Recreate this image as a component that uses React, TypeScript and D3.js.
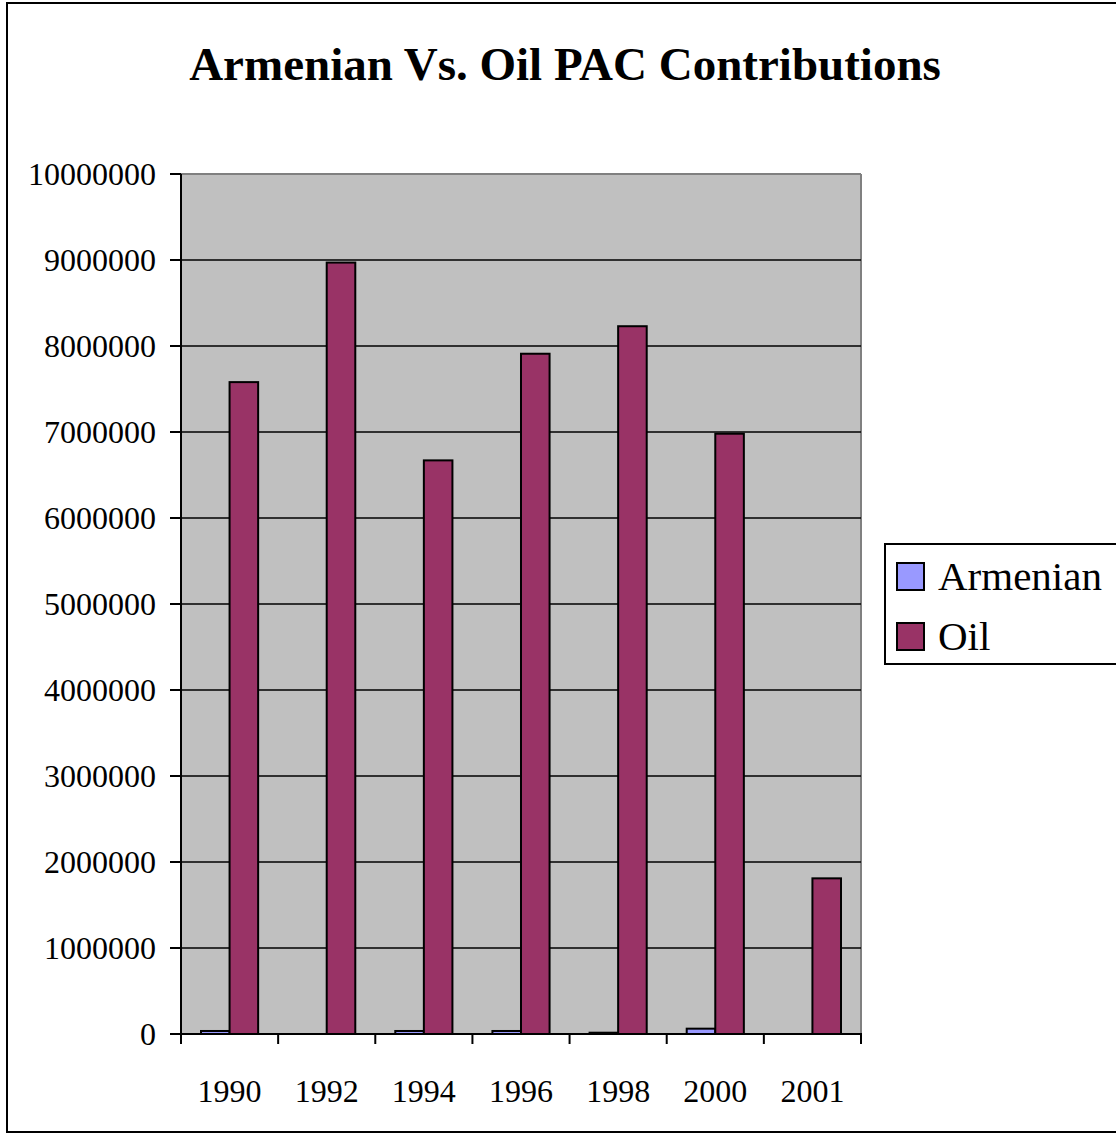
import * as d3 from "d3";
import { useEffect } from "react";

const years = ["1990", "1992", "1994", "1996", "1998", "2000", "2001"];
const armenian = [35000, 0, 35000, 35000, 15000, 62000, 0];
const oil = [7580000, 8970000, 6670000, 7910000, 8230000, 6980000, 1810000];
const seriesNames = ["Armenian", "Oil"];
const seriesColors = ["#9999FF", "#993366"];
const yTicks = d3.range(0, 10000001, 1000000);

const W = 1116;
const H = 1135;
const plot = { left: 181, right: 861, top: 174, bottom: 1034 };
const font = "'Liberation Serif', 'Times New Roman', serif";

const App = () => {
	useEffect(() => {
		document.body.style.margin = "0";
	}, []);

	const x0 = d3.scaleBand().domain(years).range([plot.left, plot.right]).padding(0);
	const x1 = d3
		.scaleBand()
		.domain(seriesNames)
		.range([0, x0.bandwidth()])
		.paddingInner(0)
		.paddingOuter(0.7);
	const y = d3.scaleLinear().domain([0, 10000000]).range([plot.bottom, plot.top]);
	const fmt = d3.format("d");
	const values = [armenian, oil];
	const tickXs = [...years.map(d => x0(d)), plot.right];

	return (
		<svg width={W} height={H} style={{ display: "block", fontFamily: font }}>
			<rect x={0} y={0} width={W} height={H} fill="#fff" />
			<rect x={7} y={3} width={W + 10} height={1129} fill="none" stroke="#000" strokeWidth={2} />
			<text x={565} y={80} textAnchor="middle" fontSize={47} fontWeight="bold">
				Armenian Vs. Oil PAC Contributions
			</text>

			{/* plot area */}
			<rect
				x={plot.left}
				y={plot.top}
				width={plot.right - plot.left}
				height={plot.bottom - plot.top}
				fill="#C0C0C0"
			/>
			<line x1={plot.left} x2={plot.right} y1={plot.top} y2={plot.top} stroke="#808080" strokeWidth={2} />
			<line x1={plot.right} x2={plot.right} y1={plot.top} y2={plot.bottom} stroke="#808080" strokeWidth={2} />
			{yTicks.slice(1, -1).map(t => (
				<line key={t} x1={plot.left} x2={plot.right} y1={y(t)} y2={y(t)} stroke="#000" strokeWidth={1.5} />
			))}

			{/* bars */}
			{years.map((yr, i) => (
				<g key={yr} transform={`translate(${x0(yr)},0)`}>
					{seriesNames.map((s, j) => {
						const v = values[j][i];
						if (!v) return null;
						return (
							<rect
								key={s}
								x={x1(s)}
								y={y(v)}
								width={x1.bandwidth()}
								height={y(0) - y(v)}
								fill={seriesColors[j]}
								stroke="#000"
								strokeWidth={2}
							/>
						);
					})}
				</g>
			))}

			{/* axes */}
			<line x1={plot.left} x2={plot.left} y1={plot.top} y2={plot.bottom} stroke="#000" strokeWidth={2} />
			<line x1={plot.left - 11} x2={plot.right + 1} y1={plot.bottom} y2={plot.bottom} stroke="#000" strokeWidth={2} />
			{yTicks.map(t => (
				<g key={t}>
					<line x1={plot.left - 11} x2={plot.left} y1={y(t)} y2={y(t)} stroke="#000" strokeWidth={2} />
					<text x={156} y={y(t)} dy="0.34em" textAnchor="end" fontSize={32}>
						{fmt(t)}
					</text>
				</g>
			))}
			{tickXs.map((tx, i) => (
				<line key={i} x1={tx} x2={tx} y1={plot.bottom} y2={plot.bottom + 10} stroke="#000" strokeWidth={2} />
			))}
			{years.map(yr => (
				<text key={yr} x={x0(yr) + x0.bandwidth() / 2} y={1102} textAnchor="middle" fontSize={32}>
					{yr}
				</text>
			))}

			{/* legend */}
			<rect x={885} y={544} width={W} height={120} fill="#fff" stroke="#000" strokeWidth={2} />
			{seriesNames.map((s, j) => (
				<g key={s} transform={`translate(897,${563 + j * 60})`}>
					<rect x={0} y={0} width={27} height={27} fill={seriesColors[j]} stroke="#000" strokeWidth={2} />
					<text x={41} y={27} fontSize={41}>
						{s}
					</text>
				</g>
			))}
		</svg>
	);
};

export default App;
